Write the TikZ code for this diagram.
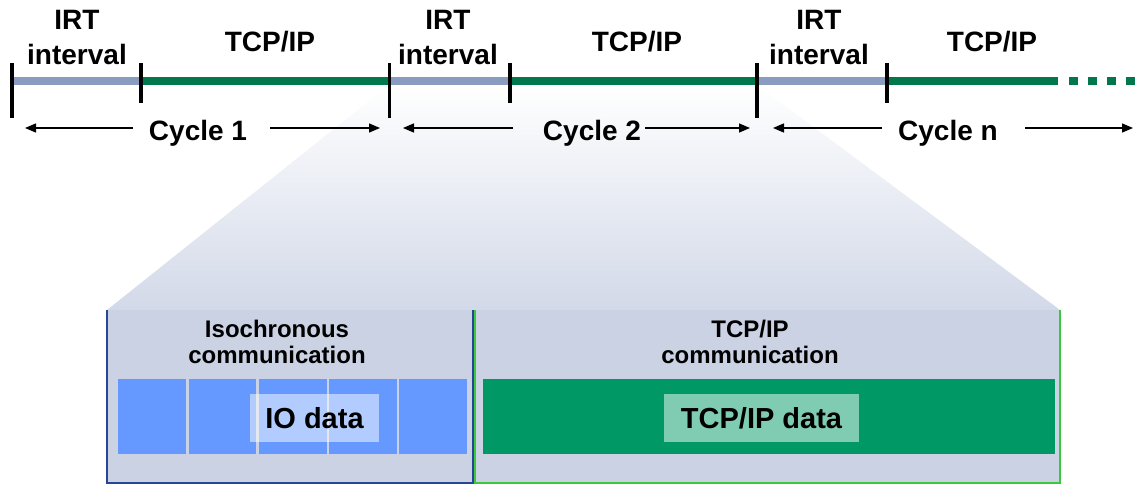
\documentclass[tikz,border=0pt]{standalone}
\usepackage{fontspec}
\setmainfont{Liberation Sans}
\usetikzlibrary{arrows.meta}
\definecolor{irtgray}{RGB}{138,157,192}
\definecolor{tcpgreen}{RGB}{0,120,75}
\definecolor{boxfill}{RGB}{202,210,228}
\definecolor{isoblue}{RGB}{102,153,255}
\definecolor{datagreen}{RGB}{0,153,102}
\definecolor{borderblue}{RGB}{40,70,150}
\definecolor{bordergreen}{RGB}{60,200,60}
\begin{document}
\begin{tikzpicture}[x=1pt,y=-1pt,
  lbl/.style={font=\fontsize{28}{35}\selectfont\bfseries, inner sep=0pt, align=center},
  sub/.style={font=\fontsize{24}{26}\selectfont\bfseries, inner sep=0pt, align=center},
  datalbl/.style={font=\fontsize{29}{32}\selectfont\bfseries, inner sep=0pt, fill=white, fill opacity=0.5, text opacity=1, minimum height=48pt},
  tickmark/.style={line width=3.5pt, black},
  seg/.style={line width=8.5pt},
  cyc/.style={line width=1.4pt, -{Triangle[length=11pt,width=9pt]}},
  ]
\useasboundingbox (0,0) rectangle (1140,484);
% zoom region
\shade[top color=white, bottom color=boxfill!85!white] (389,85) -- (757,85) -- (1060,310) -- (107,310) -- cycle;
\fill[boxfill] (107,310) rectangle (1060,484);
\draw[borderblue, line width=1.5pt] (107,310) -- (107,483) -- (473,483) -- (473,310);
\draw[bordergreen, line width=1.5pt] (475,310) -- (475,483) -- (1060,483) -- (1060,310);
% isochronous blocks
\foreach \a/\b in {118/186,189/256,259/327,329/397,399/467}
  \fill[isoblue] (\a,379) rectangle (\b,454);
\node[datalbl, minimum width=129pt] (io) at (314.5,418) {IO data};
% tcp block
\fill[datagreen] (483,379) rectangle (1055,454);
\node[datalbl, minimum width=195pt] (tcpd) at (761.5,418) {TCP/IP data};
% titles
\node[sub, anchor=south] (iso) at (277,364) {Isochronous\\communication};
\node[sub, anchor=south] (tcpc) at (750,364) {TCP/IP\\communication};
% timeline
\coordinate (t0) at (12,81);
\coordinate (t1) at (141,81);
\coordinate (t2) at (389.5,81);
\coordinate (t3) at (510,81);
\coordinate (t4) at (757,81);
\coordinate (t5) at (887,81);
\coordinate (t6) at (1058,81);
\coordinate (d0) at (1069,81);
\coordinate (d1) at (1140,81);
\draw[seg, irtgray] (t0) -- (t1);
\draw[seg, tcpgreen] (t1) -- (t2);
\draw[seg, irtgray] (t2) -- (t3);
\draw[seg, tcpgreen] (t3) -- (t4);
\draw[seg, irtgray] (t4) -- (t5);
\draw[seg, tcpgreen] (t5) -- (t6);
\draw[seg, tcpgreen, dash pattern=on 9pt off 10pt] (d0) -- (d1);
% ticks
\foreach \x in {12,389.5,757} \draw[tickmark] (\x,63) -- (\x,118);
\foreach \x in {141,510,887} \draw[tickmark] (\x,63) -- (\x,103);
% labels
\node[lbl, anchor=south] (irt1) at (77,65) {IRT\\interval};
\node[lbl, anchor=south] (irt2) at (448,65) {IRT\\interval};
\node[lbl, anchor=south] (irt3) at (819,65) {IRT\\interval};
\node[lbl, anchor=base] (tcp1) at (270,52) {TCP/IP};
\node[lbl, anchor=base] (tcp2) at (637,52) {TCP/IP};
\node[lbl, anchor=base] (tcp3) at (992,52) {TCP/IP};
% cycles
\node[lbl, anchor=base] (c1) at (198,140) {Cycle 1};
\node[lbl, anchor=base] (c2) at (592,140) {Cycle 2};
\node[lbl, anchor=base] (cn) at (948,140) {Cycle n};
\coordinate (c1a) at (133,128); \coordinate (c1b) at (25,128);
\coordinate (c1c) at (270,128); \coordinate (c1d) at (380,128);
\coordinate (c2a) at (513,128); \coordinate (c2b) at (403,128);
\coordinate (c2c) at (645,128); \coordinate (c2d) at (750,128);
\coordinate (cna) at (882,128); \coordinate (cnb) at (773,128);
\coordinate (cnc) at (1025,128); \coordinate (cnd) at (1133,128);
\draw[cyc] (c1a) -- (c1b);
\draw[cyc] (c1c) -- (c1d);
\draw[cyc] (c2a) -- (c2b);
\draw[cyc] (c2c) -- (c2d);
\draw[cyc] (cna) -- (cnb);
\draw[cyc] (cnc) -- (cnd);
\end{tikzpicture}
\end{document}
